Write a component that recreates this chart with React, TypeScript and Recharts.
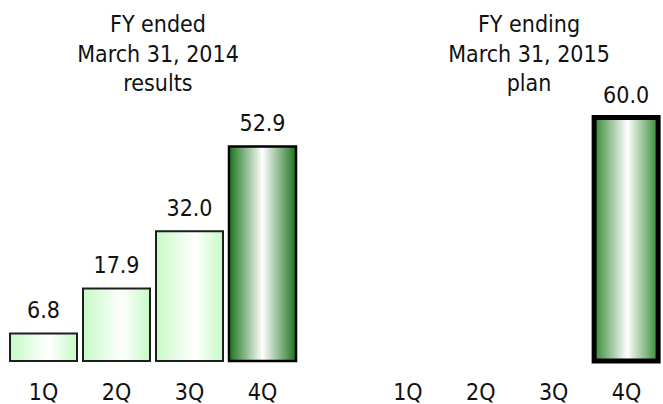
import { BarChart, Bar, XAxis, YAxis, LabelList, Cell } from "recharts";

// quarterly figures, two fiscal years
const quarters = ["1Q", "2Q", "3Q", "4Q"];
const results2014: (number | null)[] = [6.8, 17.9, 32.0, 52.9];
const plan2015: (number | null)[] = [null, null, null, 60.0];
const title2014 = ["FY ended", "March 31, 2014", "results"];
const title2015 = ["FY ending", "March 31, 2015", "plan"];

const FONT = "'DejaVu Sans Condensed', 'DejaVu Sans', sans-serif";
const TEXT = "#111111";
const FS = 23;

const toRows = (vals: (number | null)[]) => quarters.map((q, i) => ({ name: q, value: vals[i] }));

const QuarterTick = (props: any) => {
  const { x, y, payload } = props;
  return (
    <text x={x} y={y + 39} textAnchor="middle" fontSize={FS} fontFamily={FONT} fontStretch="condensed" fill={TEXT}>
      {payload.value}
    </text>
  );
};

const fmt = (v: any) => (v == null ? "" : Number(v).toFixed(1));

function Defs() {
  return (
    <defs>
      <linearGradient id="lightGreen" x1="0" y1="0" x2="1" y2="0">
        <stop offset="0%" stopColor="#c6fac6" />
        <stop offset="58%" stopColor="#ffffff" />
        <stop offset="100%" stopColor="#c6fac6" />
      </linearGradient>
      <linearGradient id="darkGreen" x1="0" y1="0" x2="1" y2="0">
        <stop offset="0%" stopColor="#1c741c" />
        <stop offset="50%" stopColor="#ffffff" />
        <stop offset="100%" stopColor="#1c741c" />
      </linearGradient>
      <linearGradient id="planGreen" x1="0" y1="0" x2="1" y2="0">
        <stop offset="0%" stopColor="#348a34" />
        <stop offset="52%" stopColor="#ffffff" />
        <stop offset="100%" stopColor="#348a34" />
      </linearGradient>
    </defs>
  );
}

function Title({ lines, cx }: { lines: string[]; cx: number }) {
  const base = [32, 61.5, 91];
  return (
    <>
      {lines.map((t, i) => (
        <text key={t} x={cx} y={base[i]} textAnchor="middle" fontSize={FS} fontFamily={FONT} fontStretch="condensed" fill={TEXT}>
          {t}
        </text>
      ))}
    </>
  );
}

export default function App() {
  return (
    <div style={{ position: "absolute", left: 0, top: 0, width: 663, height: 404, background: "#fff", overflow: "hidden" }}>
      <div style={{ position: "absolute", left: 0, top: 0 }}>
        <BarChart width={310} height={404} data={toRows(results2014)} margin={{ top: 77, right: 11, bottom: 0, left: 7 }} barSize={67}>
          <Defs />
          <XAxis dataKey="name" height={43} axisLine={false} tickLine={false} tickSize={0} tickMargin={0} tick={<QuarterTick />} interval={0} />
          <YAxis hide domain={[0, 70]} />
          <Bar dataKey="value" isAnimationActive={false}>
            {results2014.map((_, i) => (
              <Cell
                key={i}
                fill={i === 3 ? "url(#darkGreen)" : "url(#lightGreen)"}
                stroke={i === 3 ? "#000000" : "#1e1e1e"}
                strokeWidth={i === 3 ? 2.5 : 2}
              />
            ))}
            <LabelList dataKey="value" position="top" offset={15} formatter={fmt} fill={TEXT} fontSize={FS} fontFamily={FONT} />
          </Bar>
        </BarChart>
      </div>
      <div style={{ position: "absolute", left: 340, top: 0 }}>
        <BarChart width={323} height={404} data={toRows(plan2015)} margin={{ top: 77, right: 0, bottom: 0, left: 31.5 }} barSize={64}>
          <Defs />
          <XAxis dataKey="name" height={43} axisLine={false} tickLine={false} tickSize={0} tickMargin={0} tick={<QuarterTick />} interval={0} />
          <YAxis hide domain={[0, 70]} />
          <Bar dataKey="value" isAnimationActive={false} stroke="#000000" strokeWidth={5} fill="url(#planGreen)">
            <LabelList dataKey="value" position="top" offset={15} formatter={fmt} fill={TEXT} fontSize={FS} fontFamily={FONT} />
          </Bar>
        </BarChart>
      </div>
      <svg width={663} height={100} style={{ position: "absolute", left: 0, top: 0, pointerEvents: "none" }}>
        <Title lines={title2014} cx={158} />
        <Title lines={title2015} cx={529} />
      </svg>
    </div>
  );
}
